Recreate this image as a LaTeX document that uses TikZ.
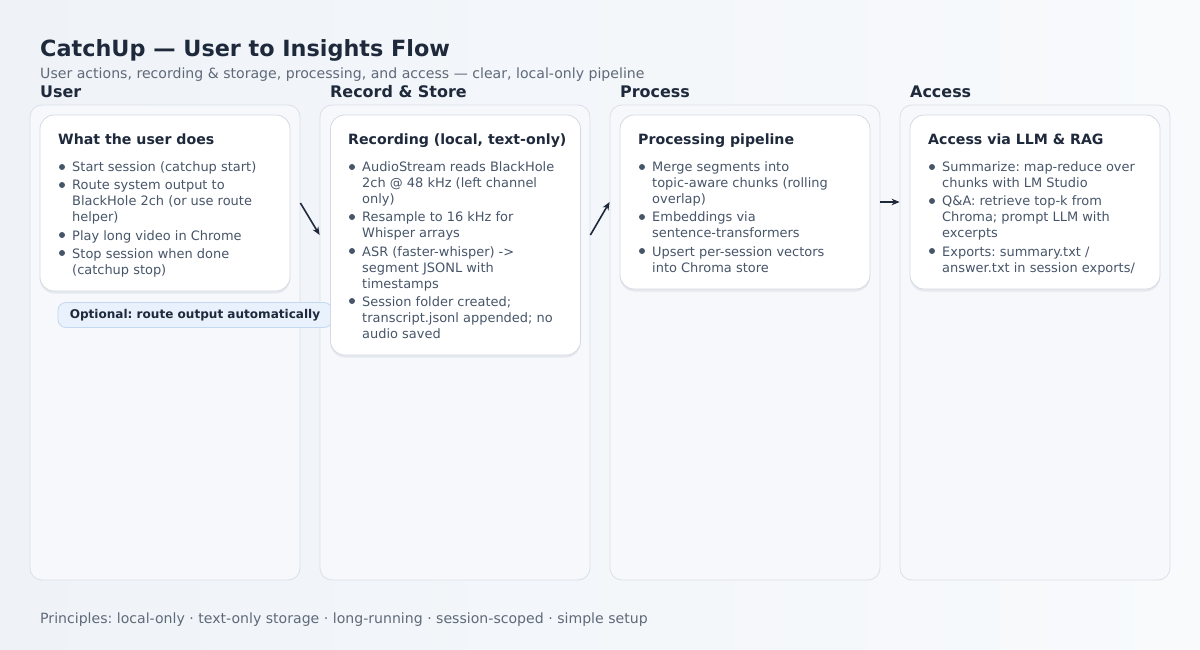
\documentclass[tikz,border=0pt]{standalone}
\usepackage{fontspec}
\setmainfont{DejaVu Sans}
\frenchspacing
\usetikzlibrary{arrows.meta,shadows,calc}
\definecolor{bgA}{RGB}{239,243,248}
\definecolor{bgB}{RGB}{248,250,252}
\definecolor{titlec}{RGB}{30,41,59}
\definecolor{subc}{RGB}{95,105,120}
\definecolor{lanefill}{RGB}{246,248,251}
\definecolor{laneline}{RGB}{218,224,233}
\definecolor{cardline}{RGB}{212,218,228}
\definecolor{bultxt}{RGB}{71,85,105}
\definecolor{pillfill}{RGB}{232,241,252}
\definecolor{pillline}{RGB}{196,216,240}
\definecolor{arrc}{RGB}{30,41,59}
\tikzset{
  lane/.style={draw=laneline, line width=0.8bp, fill=lanefill, rounded corners=12bp,
    minimum width=270bp, minimum height=475bp, inner sep=0pt},
  card/.style={draw=cardline, line width=0.8bp, fill=white, rounded corners=14bp,
    minimum width=250bp, inner sep=0pt,
    drop shadow={shadow xshift=0bp, shadow yshift=-2.5bp, opacity=0.07, fill=titlec}},
  pill/.style={draw=pillline, line width=0.8bp, fill=pillfill, rounded corners=8bp,
    minimum width=274bp, minimum height=25bp, inner sep=0pt, text=titlec,
    font=\fontsize{12.1}{14}\selectfont\bfseries},
  title/.style={anchor=base west, inner sep=0pt, text=titlec, font=\fontsize{22.4}{26}\selectfont\bfseries},
  subtitle/.style={anchor=base west, inner sep=0pt, text=subc, font=\fontsize{14.15}{16}\selectfont},
  lanehead/.style={anchor=base west, inner sep=0pt, text=titlec, font=\fontsize{16}{19}\selectfont\bfseries},
  cardtitle/.style={anchor=base west, inner sep=0pt, text=titlec, font=\fontsize{14.2}{18}\selectfont\bfseries},
  btxt/.style={anchor=base west, inner sep=0pt, text=bultxt, font=\fontsize{13}{16}\selectfont},
  arr/.style={draw=arrc, line width=1.6bp, -{Stealth[length=8bp,width=6.5bp]}},
}
\newcommand\bdot[2]{\fill[bultxt] (#1,#2) circle (3bp);}
\begin{document}
\begin{tikzpicture}[x=1bp,y=-1bp]
\useasboundingbox (0,0) rectangle (1200,650);
\shade[left color=bgA, right color=bgB] (0,0) rectangle (1200,650);

% title
\node[title] (ttl) at (40,57) {CatchUp — User to Insights Flow};
\node[subtitle] (sub) at (40,78.5) {User actions, recording \& storage, processing, and access — clear, local-only pipeline};

% lane headers
\node[lanehead] (h1) at (40,98) {User};
\node[lanehead] (h2) at (330,98) {Record \& Store};
\node[lanehead] (h3) at (620,98) {Process};
\node[lanehead] (h4) at (910,98) {Access};

% lanes
\node[lane] (lane1) at (165,342.5) {};
\node[lane] (lane2) at (455,342.5) {};
\node[lane] (lane3) at (745,342.5) {};
\node[lane] (lane4) at (1035,342.5) {};

% pill
\node[pill] (pill) at (195,315) {Optional: route output automatically};

% cards
\node[card, minimum height=176bp] (card1) at (165,203) {};
\node[card, minimum height=240bp] (card2) at (455.5,235) {};
\node[card, minimum height=174bp] (card3) at (745,202) {};
\node[card, minimum height=174bp] (card4) at (1035,202) {};

% card 1
\node[cardtitle] (t1) at (58,144.5) {What the user does};
\bdot{62}{167}\node[btxt] (u1) at (72,172) {Start session (catchup start)};
\bdot{62}{185}\node[btxt] (u2) at (72,190) {Route system output to};
\node[btxt] (u3) at (72,206) {BlackHole 2ch (or use route};
\node[btxt] (u4) at (72,222) {helper)};
\bdot{62}{235}\node[btxt] (u5) at (72,240) {Play long video in Chrome};
\bdot{62}{253}\node[btxt] (u6) at (72,258) {Stop session when done};
\node[btxt] (u7) at (72,274) {(catchup stop)};

% card 2
\node[cardtitle] (t2) at (348,144.5) {Recording (local, text-only)};
\bdot{352}{167}\node[btxt] (r1) at (362,172) {AudioStream reads BlackHole};
\node[btxt] (r2) at (362,188) {2ch @ 48 kHz (left channel};
\node[btxt] (r3) at (362,204) {only)};
\bdot{352}{217}\node[btxt] (r4) at (362,222) {Resample to 16 kHz for};
\node[btxt] (r5) at (362,238) {Whisper arrays};
\bdot{352}{251}\node[btxt] (r6) at (362,256) {ASR (faster-whisper) ->};
\node[btxt] (r7) at (362,272) {segment JSONL with};
\node[btxt] (r8) at (362,288) {timestamps};
\bdot{352}{301}\node[btxt] (r9) at (362,306) {Session folder created;};
\node[btxt] (r10) at (362,322) {transcript.jsonl appended; no};
\node[btxt] (r11) at (362,338) {audio saved};

% card 3
\node[cardtitle] (t3) at (638,144.5) {Processing pipeline};
\bdot{642}{167}\node[btxt] (p1) at (652,172) {Merge segments into};
\node[btxt] (p2) at (652,188) {topic-aware chunks (rolling};
\node[btxt] (p3) at (652,204) {overlap)};
\bdot{642}{217}\node[btxt] (p4) at (652,222) {Embeddings via};
\node[btxt] (p5) at (652,238) {sentence-transformers};
\bdot{642}{251}\node[btxt] (p6) at (652,256) {Upsert per-session vectors};
\node[btxt] (p7) at (652,272) {into Chroma store};

% card 4
\node[cardtitle] (t4) at (928,144.5) {Access via LLM \& RAG};
\bdot{932}{167}\node[btxt] (a1) at (942,172) {Summarize: map-reduce over};
\node[btxt] (a2) at (942,188) {chunks with LM Studio};
\bdot{932}{201}\node[btxt] (a3) at (942,206) {Q\&A: retrieve top-k from};
\node[btxt] (a4) at (942,222) {Chroma; prompt LLM with};
\node[btxt] (a5) at (942,238) {excerpts};
\bdot{932}{251}\node[btxt] (a6) at (942,256) {Exports: summary.txt /};
\node[btxt] (a7) at (942,272) {answer.txt in session exports/};

% arrows
\draw[arr] (lane1.east |- card1.center) -- (lane2.west |- card2.center);
\draw[arr] (lane2.east |- card2.center) -- (lane3.west |- card3.center);
\draw[arr] (lane3.east |- card3.center) -- (lane4.west |- card4.center);

% footer
\node[subtitle] (foot) at (40,623) {Principles: local-only · text-only storage · long-running · session-scoped · simple setup};
\end{tikzpicture}
\end{document}
